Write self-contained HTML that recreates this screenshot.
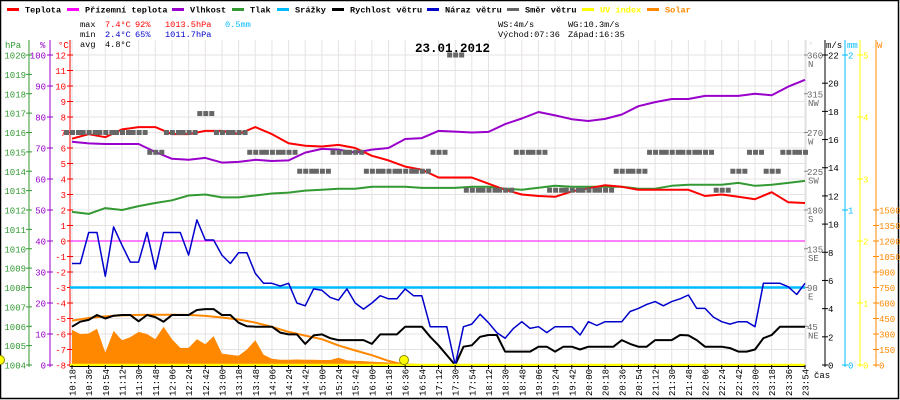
<!DOCTYPE html>
<html><head><meta charset="utf-8">
<style>
html,body{margin:0;padding:0;background:#fff;}
svg{display:block;font-family:"Liberation Mono",monospace;}
</style></head>
<body>
<svg id="chart" width="900" height="400" viewBox="0 0 900 400" xmlns="http://www.w3.org/2000/svg">
<rect x="0.5" y="0.5" width="898" height="398" fill="#fff" stroke="#000" stroke-width="1.5"/>
<g id="grid"></g>
<g id="legend" font-size="8.6" font-weight="bold"></g>
<g id="stats" font-size="8.6"></g>
<text x="415" y="52" font-size="12.5" font-weight="bold">23.01.2012</text>
<g id="axes" font-size="9"></g>
<g id="series"></g>
<g id="xlabels" font-size="9"></g>
</svg>
<script>
const timeLabels=["10:18","10:36","10:54","11:12","11:30","11:48","12:06","12:24","12:42","13:00","13:18","13:48","14:06","14:24","14:42","15:00","15:24","15:42","16:00","16:18","16:36","16:54","17:12","17:30","17:54","18:12","18:30","18:48","19:06","19:24","19:42","20:00","20:18","20:36","20:54","21:12","21:30","21:48","22:06","22:24","22:42","23:00","23:18","23:36","23:54"];
const temperature=[6.6,6.9,6.7,7.2,7.35,7.35,6.9,6.9,7.1,7.1,6.9,7.35,6.9,6.3,6.15,6.1,6.2,6.0,5.5,5.2,4.8,4.6,4.1,4.1,4.1,3.7,3.3,3.0,2.9,2.85,3.2,3.4,3.6,3.5,3.3,3.3,3.3,3.3,2.9,3.0,2.85,2.7,3.15,2.5,2.45];
const humidity=[72,71.5,71.3,71.3,71.3,68.7,66.5,66.2,66.8,65.3,65.5,66.2,65.8,66,68.5,69.7,69.5,68.5,69.5,70,72.9,73.2,75.5,75.3,75,75.2,77.7,79.5,81.6,80.5,79.3,78.7,79.4,80.8,83.5,84.8,85.8,85.8,86.8,86.8,86.8,87.5,87,89.8,92];
const pressure=[1011.9,1011.8,1012.1,1012.0,1012.2,1012.36,1012.5,1012.75,1012.8,1012.65,1012.65,1012.75,1012.85,1012.9,1013.0,1013.05,1013.1,1013.1,1013.2,1013.2,1013.2,1013.14,1013.14,1013.14,1013.2,1013.2,1013.1,1013.05,1013.15,1013.25,1013.2,1013.2,1013.2,1013.2,1013.1,1013.1,1013.25,1013.3,1013.3,1013.3,1013.4,1013.25,1013.3,1013.4,1013.5];
const windDir=[270,270,270,270,270,247,270,270,292,270,270,247,247,247,225,225,247,247,225,225,225,225,247,360,203,203,203,247,247,203,203,203,203,225,225,247,247,247,247,203,225,247,225,247,247];
const solarTheory=[430,455,470,480,485,487,487,485,475,460,440,410,370,320,285,250,190,140,95,40,0,0,0,0,0,0,0,0,0,0,0,0,0,0,0,0,0,0,0,0,0,0,0,0,0];
const gust=[7.2,7.2,9.4,9.4,6.3,9.8,8.5,7.3,7.3,9.4,6.8,9.4,9.4,9.4,7.8,10.3,8.87,8.87,7.8,7.2,7.97,7.97,6.5,5.8,5.8,5.6,5.8,4.4,4.2,5.4,5.3,4.8,4.6,5.4,4.4,3.97,4.4,4.92,4.7,4.7,5.4,4.92,4.92,2.72,2.72,2.72,0,2.72,2.9,3.6,3.0,2.3,1.9,2.6,3.07,2.6,2.72,2.3,2.72,2.72,2.72,2.13,3.07,2.8,3.07,3.07,3.07,3.8,4.02,4.3,4.5,4.2,4.5,4.7,4.97,4.02,4.02,3.4,3.07,2.9,3.07,3.07,2.72,5.8,5.8,5.8,5.55,5.0,5.8];
const windSpeed=[2.72,3.07,3.2,3.55,3.3,3.5,3.55,3.55,3.1,3.55,3.4,3.07,3.55,3.55,3.55,3.9,3.97,3.97,3.55,3.55,3.0,2.75,2.72,2.72,2.72,2.3,2.17,2.17,1.5,2.1,2.17,1.9,1.77,1.77,1.77,1.77,1.5,2.17,2.17,2.17,2.72,2.72,2.72,2.0,1.4,0.7,0,1.3,1.4,2.0,2.13,2.13,0.95,0.95,0.95,0.95,1.3,1.3,0.95,1.3,1.3,1.1,1.3,1.3,1.3,1.3,1.77,1.5,1.3,1.3,1.77,1.77,1.77,2.13,2.1,1.77,1.3,1.3,1.3,1.2,0.95,0.95,1.1,1.9,2.13,2.72,2.72,2.72,2.72];
const solar=[340,300,305,350,120,330,240,270,320,300,250,370,250,165,165,250,200,280,110,100,90,150,240,100,60,50,50,53,50,50,48,48,70,45,40,38,32,28,24,20,16,12,8,0,0,0,0,0,0,0,0,0,0,0,0,0,0,0,0,0,0,0,0,0,0,0,0,0,0,0,0,0,0,0,0,0,0,0,0,0,0,0,0,0,0,0,0,0,0];
const rainTotal=0.5;
const feelsTemp=0;
const uvIndex=0;

const NS="http://www.w3.org/2000/svg";
function mk(tag,attrs,parent,txt){const e=document.createElementNS(NS,tag);for(const k in attrs)e.setAttribute(k,attrs[k]);if(txt!==undefined)e.textContent=txt;parent.appendChild(e);return e;}
const X0=72,XSTEP=(805-72)/44;
const xi=i=>X0+i*XSTEP;
const xj=j=>X0+j*XSTEP/2;
const TOP=55,BOT=365,H=BOT-TOP;
const yT=t=>BOT-(t+8)/20*H;
const yH=h=>BOT-h/100*H;
const yP=p=>BOT-(p-1004)/16*H;
const yW=v=>BOT-v/22*H;
const yD=d=>BOT-d/360*H;
const yS=w=>BOT-w/1500*(BOT-210);
const yR=r=>BOT-r/2*H;
const yU=u=>BOT-u/5*H;

const grid=document.getElementById('grid');
for(let t=-8;t<=12;t++){const g=mk('line',{x1:70,x2:806,y1:yT(t),y2:yT(t),stroke:'#e6e2e2','stroke-width':1},grid);}
for(let i=0;i<timeLabels.length;i++){const g=mk('line',{x1:xi(i),x2:xi(i),y1:40,y2:365,stroke:'#e6e2e2','stroke-width':1},grid);}

const legend=document.getElementById('legend');
const legItems=[["Teplota","#f00",25],["Přízemní teplota","#f0f",85],["Vlhkost","#90c",190],["Tlak","#393",250],["Srážky","#0bf",295],["Rychlost větru","#000",350],["Náraz větru","#00c",445],["Směr větru","#666",525],["UV index","#ff0",600],["Solar","#f80",665]];
legItems.forEach(it=>{
 const r=mk('rect',{x:it[2]-18,y:8,width:12,height:3,fill:it[1]},legend);
 
 const tcol=(it[0]==="UV index"||it[0]==="Solar")?it[1]:'#000';
 const t=mk('text',{x:it[2],y:12.5,fill:tcol},legend,it[0]);
 
});
const stats=document.getElementById('stats');
const st=[[80,27,"max","#000"],[105,27,"7.4°C","#f00"],[135,27,"92%","#f00"],[165,27,"1013.5hPa","#f00"],[225,27,"0.5mm","#0bf"],
[80,37,"min","#000"],[105,37,"2.4°C","#00c"],[135,37,"65%","#00c"],[165,37,"1011.7hPa","#00c"],
[80,47,"avg","#000"],[105,47,"4.8°C","#000"],
[498,27,"WS:4m/s","#000"],[568,27,"WG:10.3m/s","#000"],[498,37,"Východ:07:36","#000"],[568,37,"Západ:16:35","#000"]];
st.forEach(s=>{const t=mk('text',{x:s[0],y:s[1],fill:s[3]},stats,s[2]);});

const axes=document.getElementById('axes');
function axis(x,col,vals,yf,labX,anchor,title,titleX,name){
 const l=mk('line',{x1:x,x2:x,y1:40,y2:367,stroke:col,'stroke-width':1},axes);
 
 const tt=mk('text',{x:titleX,y:48,fill:col},axes,title);
 
 vals.forEach(v=>{const y=yf(v[0]);
  mk('line',{x1:x-3,x2:x+3,y1:y,y2:y,stroke:col},axes);
  const t=mk('text',{x:labX,y:y+3.5,fill:col,'text-anchor':anchor},axes,v[1]);
  
 });
}
const hpaTicks=[];for(let p=1004;p<=1020;p++)hpaTicks.push([p,String(p)]);
axis(29,'#393',hpaTicks,yP,26,'end','hPa',5,'pressure');
const humTicks=[];for(let h=0;h<=100;h+=10)humTicks.push([h,String(h)]);
axis(50,'#90c',humTicks,yH,46,'end','%',40,'humidity');
const tTicks=[];for(let t=-8;t<=12;t++)tTicks.push([t,String(t)]);
axis(70,'#f00',tTicks,yT,66,'end','°C',58,'temperature');
const dirTicks=[[360,"360"],[315,"315"],[270,"270"],[225,"225"],[180,"180"],[135,"135"],[90,"90"],[45,"45"]];
const dirNames=["N","NW","W","SW","S","SE","E","NE"];
axis(806,'#ddd',[],yD,809,'start','°',808,'direction');
dirTicks.forEach((d,k)=>{const y=yD(d[0]);
 mk('line',{x1:804,x2:808,y1:y,y2:y,stroke:'#888'},axes);
 const t=mk('text',{x:807,y:y+3.5,fill:'#666'},axes,d[1]);
 const n=mk('text',{x:808,y:y+12,fill:'#666'},axes,dirNames[k]);
});
const wsTicks=[];for(let v=0;v<=22;v+=2)wsTicks.push([v,String(v)]);
axis(825,'#000',wsTicks,yW,828,'start','m/s',826,'wind-speed');
axis(845,'#0bf',[[0,"0"],[1,"1"],[2,"2"]],yR,848,'start','mm',847,'rain');
axis(860,'#ff0',[[0,"0"],[1,"1"],[2,"2"],[3,"3"],[4,"4"],[5,"5"]],yU,863,'start','',864,'uv');
const wTicks=[];for(let w=0;w<=1500;w+=150)wTicks.push([w,String(w)]);
const wAxL=mk('line',{x1:876,x2:876,y1:40,y2:367,stroke:'#f80'},axes);

const wT=mk('text',{x:877,y:48,fill:'#f80'},axes,'W');
wTicks.forEach(v=>{const y=yS(v[0]);mk('line',{x1:873,x2:879,y1:y,y2:y,stroke:'#f80'},axes);
 const t=mk('text',{x:879,y:y+3.5,fill:'#f80'},axes,v[1]);});

const S=document.getElementById('series');
let d='M'+xj(0)+','+BOT;
solar.forEach((w,j)=>{d+=' L'+xj(j).toFixed(1)+','+yS(w).toFixed(1);});
d+=' L'+xj(solar.length-1)+','+BOT+' Z';
const area=mk('path',{d:d,fill:'#f80',stroke:'none'},S);

function line(arr,xf,yf,col,w,name){
 const p=mk('polyline',{points:arr.map((v,k)=>xf(k).toFixed(1)+','+yf(v).toFixed(1)).join(' '),fill:'none',stroke:col,'stroke-width':w,'stroke-linejoin':'round'},S);
 
}
const hl=mk('line',{x1:70,x2:805,y1:yT(feelsTemp),y2:yT(feelsTemp),stroke:'#f0f','stroke-width':1},S);

const rl=mk('line',{x1:70,x2:805,y1:yR(rainTotal),y2:yR(rainTotal),stroke:'#0bf','stroke-width':2.5},S);

line(solarTheory,xi,yS,'#f80',2,'solar-theory-line');
line(windSpeed,xj,yW,'#000',2,'wind-speed-line');
line(gust,xj,yW,'#00c',1.5,'wind-gust-line');
line(pressure,xi,yP,'#393',2,'pressure-line');
line(humidity,xi,yH,'#90c',2,'humidity-line');
line(temperature,xi,yT,'#f00',2,'temperature-line');
windDir.forEach((v,i)=>{[-6,0,6].forEach(off=>{
 if(i===windDir.length-1&&off>0)return;
 const r=mk('rect',{x:xi(i)-2+off,y:yD(v)-2.5,width:5,height:5,fill:'#666'},S);
 
});});
const ul=mk('line',{x1:70,x2:805,y1:yU(uvIndex),y2:yU(uvIndex),stroke:'#ff0','stroke-width':2.5},S);

mk('line',{x1:70,x2:805,y1:366.5,y2:366.5,stroke:'#000','stroke-width':1},S);
const sun=mk('circle',{cx:404,cy:360,r:4.5,fill:'#ff0',stroke:'#880','stroke-width':1},S);

const sun2=mk('circle',{cx:0,cy:360,r:4.5,fill:'#ff0',stroke:'#880','stroke-width':1},S);


const XL=document.getElementById('xlabels');
timeLabels.forEach((s,i)=>{
 mk('line',{x1:xi(i),x2:xi(i),y1:365,y2:369,stroke:'#000'},XL);
 const t=mk('text',{x:0,y:0,transform:'translate('+(xi(i)+3.5)+',396) rotate(-90)',fill:'#000'},XL,s);
 
});
const cas=mk('text',{x:814,y:378,fill:'#000'},XL,'čas');

</script>
</body></html>
